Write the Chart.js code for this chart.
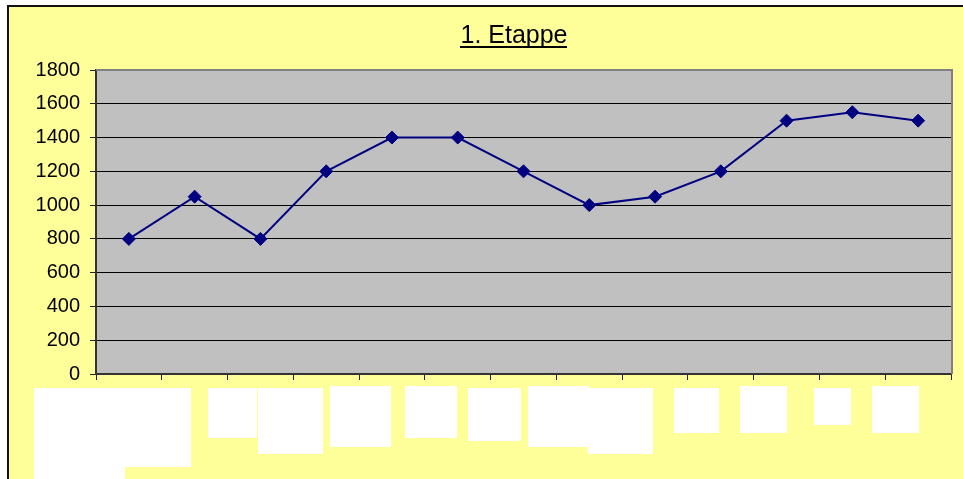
<!DOCTYPE html>
<html>
<head>
<meta charset="utf-8">
<script src="https://cdn.jsdelivr.net/npm/chart.js@4"></script>
<style>
html,body{margin:0;padding:0;background:#fff;overflow:hidden;}
#frame{position:absolute;left:7px;top:5px;width:1000px;height:520px;background:#FFFF99;border-left:2px solid #111;border-top:2px solid #111;}
#wrap{position:absolute;left:0;top:0;width:963px;height:479px;}
</style>
</head>
<body>
<div id="frame"></div>
<div id="wrap"><canvas id="etappeChart" width="963" height="479"></canvas></div>
<script>
const chartTitle = "1. Etappe";
// stage labels are hidden in the source picture (covered by white boxes)
const categories = ["","","","","","","","","","","","",""];
const values = [800,1050,800,1200,1400,1400,1200,1000,1050,1200,1500,1550,1500];
const yTicks = [0,200,400,600,800,1000,1200,1400,1600,1800];

// white cover boxes over the label area, [x, y, w, h] in canvas pixels
const coverBoxes = [
[34,388,157,79],[34,467,91,14],[208,388,49,50],[258,388,65,66],
[330,386,61,61],[405,386,52,52],[468,388,53,53],[528,386,61,61],
[588,388,65,66],[674,388,45,45],[740,386,47,47],[814,388,37,37],
[872,386,47,47]
];

const plotBg = {
id:"plotBg",
beforeDraw(chart){
const a = chart.chartArea, c = chart.ctx;
c.save();
c.fillStyle = "#C0C0C0";
c.fillRect(a.left,a.top,a.right-a.left,a.bottom-a.top);
c.restore();
},
beforeDatasetsDraw(chart){
const a = chart.chartArea, c = chart.ctx;
c.save();
c.strokeStyle = "#808080";
c.lineWidth = 2;
c.beginPath();
c.moveTo(a.left,a.top);
c.lineTo(a.right+1,a.top);
c.lineTo(a.right+1,a.bottom);
c.stroke();
c.restore();
},
afterDraw(chart){
const c = chart.ctx;
c.save();
c.fillStyle = "#fff";
coverBoxes.forEach(b => c.fillRect(b[0],b[1],b[2],b[3]));
// title, underlined
c.font = "25px 'Liberation Sans', Arial, sans-serif";
c.fillStyle = "#000";
c.textAlign = "center";
c.textBaseline = "alphabetic";
const cx = 514;
c.fillText(chartTitle,cx,43);
const w = c.measureText(chartTitle).width;
c.fillRect(Math.round(cx - w/2), 46, Math.round(w), 2);
c.restore();
}
};

const ctx = document.getElementById("etappeChart");

new Chart(ctx,{
type:"line",
data:{
labels:categories,
datasets:[{
label:chartTitle,
data:values,
borderColor:"#000080",
borderWidth:2,
backgroundColor:"#000080",
pointStyle:"rectRot",
pointRadius:6.5,
pointBorderWidth:1,
pointBorderColor:"#000080",
pointBackgroundColor:"#000080",
tension:0
}]
},
options:{
responsive:false,
animation:false,
layout:{padding:{left:0,right:12,top:70,bottom:0}},
plugins:{
legend:{display:false},
tooltip:{enabled:false},
title:{display:false}
},
scales:{
x:{
offset:true,
grid:{display:true,offset:true,drawOnChartArea:false,drawTicks:true,tickLength:6,color:"#222",lineWidth:1},
border:{display:true,color:"#333",width:2},
ticks:{display:false},
afterFit(scale){scale.height = 105;}
},
y:{
min:0,
max:1800,
afterBuildTicks(scale){scale.ticks = yTicks.map(v => ({value:v}));},
grid:{color:"#000",lineWidth:1,drawTicks:true,tickLength:6,tickColor:"#222"},
border:{display:true,color:"#333",width:2},
ticks:{
color:"#000",
padding:10,
font:{family:"'Liberation Sans', Arial, sans-serif",size:20},
callback:(v) => String(v)
},
afterFit(scale){scale.width = 96;}
}
}
},
plugins:[plotBg]
});
</script>
</body>
</html>
